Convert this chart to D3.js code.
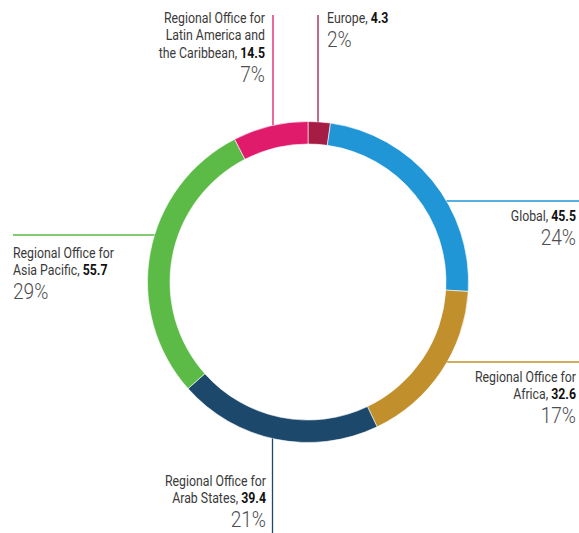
<!DOCTYPE html>
<html>
<head>
<meta charset="utf-8">
<script src="https://cdn.jsdelivr.net/npm/d3@7/dist/d3.min.js"></script>
<style>
  html, body { margin: 0; padding: 0; background: #fff; }
  svg { display: block; }
  .name { font-family: Roboto, "Liberation Sans", sans-serif; font-size: 14.5px; fill: #3a3a3a; }
  .name tspan.val { font-weight: bold; fill: #111; }
  .pct { font-family: Roboto, "Liberation Sans", sans-serif; font-weight: 300; font-size: 22.5px; fill: #4d4d4d; }
</style>
</head>
<body>
<svg id="chart" width="579" height="533"></svg>
<script>
// Budget by office (clockwise from 12 o'clock)
const categories = ["Europe", "Global", "Regional Office for Africa", "Regional Office for Arab States", "Regional Office for Asia Pacific", "Regional Office for Latin America and the Caribbean"];
const values = [4.3, 45.5, 32.6, 39.4, 55.7, 14.5];
const shares = ["2%", "24%", "17%", "21%", "29%", "7%"];
const colors = ["#a51d45", "#2196d6", "#c18f2b", "#1b486b", "#5cba47", "#e11b6b"];

// Label text broken into lines (last line carries the value)
const labelLines = [
  ["Europe,"],
  ["Global,"],
  ["Regional Office for", "Africa,"],
  ["Regional Office for", "Arab States,"],
  ["Regional Office for", "Asia Pacific,"],
  ["Regional Office for", "Latin America and", "the Caribbean,"]
];

// Label placement: anchor point, alignment and leader line direction
const layout = [
  { x: 327, y: 23, anchor: "start", lead: { type: "v", at: 318, from: 15 } },
  { x: 576, y: 221, anchor: "end", lead: { type: "h", at: 201, to: 579 } },
  { x: 576, y: 382, anchor: "end", lead: { type: "h", at: 362, to: 579 } },
  { x: 266, y: 486, anchor: "end", lead: { type: "v", at: 272.5, from: 533 } },
  { x: 13, y: 258, anchor: "start", lead: { type: "h", at: 235, to: 13 } },
  { x: 265, y: 23, anchor: "end", lead: { type: "v", at: 273, from: 15 } }
];

const cx = 308, cy = 282, outerR = 160.5, innerR = 138;
const lineH = 17.5;
const squeeze = 0.85;   // horizontal condensing of label type

const svg = d3.select("#chart");
const g = svg.append("g").attr("transform", `translate(${cx},${cy})`);

const data = categories.map((c, i) => ({ name: c, value: values[i], share: shares[i], color: colors[i], lines: labelLines[i], pos: layout[i] }));

const pie = d3.pie().value(d => d.value).sort(null);
const arc = d3.arc().innerRadius(innerR).outerRadius(outerR);

// Leader lines, running from the label edge to the ring's outer rim
data.forEach(d => {
  const L = d.pos.lead;
  let x1, y1, x2, y2;
  if (L.type === "v") {
    const dx = L.at - cx;
    const dy = Math.sqrt(outerR * outerR - dx * dx);
    x1 = x2 = L.at;
    y1 = L.from;
    y2 = L.from < cy ? cy - dy : cy + dy;
  } else {
    const dy = L.at - cy;
    const dx = Math.sqrt(outerR * outerR - dy * dy);
    y1 = y2 = L.at;
    x1 = L.to;
    x2 = L.to > cx ? cx + dx : cx - dx;
  }
  svg.append("line")
    .attr("x1", x1).attr("y1", y1).attr("x2", x2).attr("y2", y2)
    .attr("stroke", d.color).attr("stroke-width", 1.3);
});

// Ring segments
g.selectAll("path.slice")
  .data(pie(data))
  .join("path")
  .attr("class", "slice")
  .attr("d", arc)
  .attr("fill", d => d.data.color)
  .attr("stroke", "#fff")
  .attr("stroke-width", 0.6);

// Labels
data.forEach(d => {
  const p = d.pos;
  const lab = svg.append("g").attr("transform", `translate(${p.x},${p.y}) scale(${squeeze},1)`);
  const t = lab.append("text").attr("class", "name").attr("text-anchor", p.anchor);
  d.lines.forEach((ln, i) => {
    const last = i === d.lines.length - 1;
    t.append("tspan").attr("x", 0).attr("y", i * lineH).text(last ? ln + " " : ln);
    if (last) {
      t.append("tspan").attr("class", "val").text(d3.format(".1f")(d.value));
    }
  });
  lab.append("text").attr("class", "pct").attr("text-anchor", p.anchor)
    .attr("x", 0).attr("y", (d.lines.length - 1) * lineH + 24)
    .text(d.share);
});
</script>
</body>
</html>
